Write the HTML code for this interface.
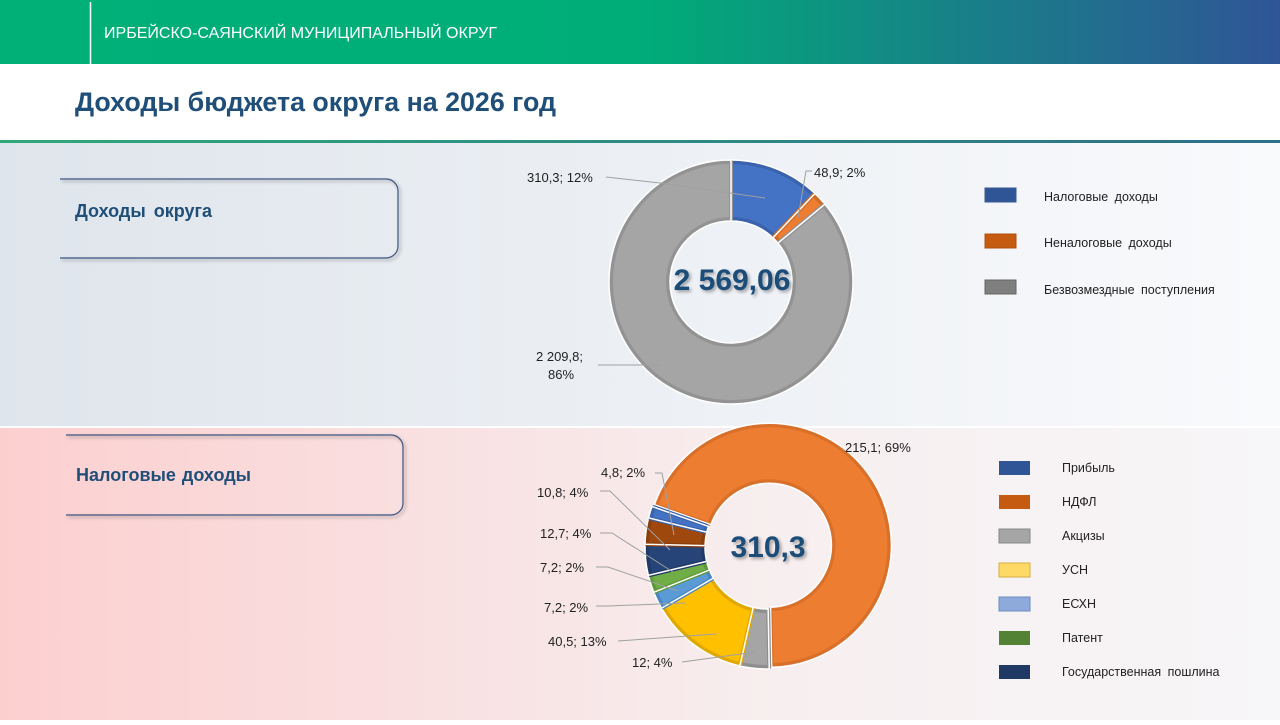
<!DOCTYPE html>
<html><head><meta charset="utf-8"><style>
body{margin:0;width:1280px;height:720px;overflow:hidden;font-family:"Liberation Sans",sans-serif}
</style></head><body>
<svg id="s" width="1280" height="720" xmlns="http://www.w3.org/2000/svg" font-family="Liberation Sans, sans-serif">
<defs>
<linearGradient id="hd" x1="0" x2="1"><stop offset="0" stop-color="#00b077"/><stop offset="0.5" stop-color="#00ad78"/><stop offset="1" stop-color="#2f5597"/></linearGradient>
<linearGradient id="t1" x1="0" x2="1"><stop offset="0" stop-color="#dfe5ec"/><stop offset="1" stop-color="#f9fafc"/></linearGradient>
<linearGradient id="t2" x1="0" x2="1"><stop offset="0" stop-color="#fccfcf"/><stop offset="0.6" stop-color="#f7eeef"/><stop offset="1" stop-color="#f7f6f8"/></linearGradient>
<linearGradient id="gl" x1="0" x2="1"><stop offset="0" stop-color="#2fa87a"/><stop offset="1" stop-color="#2e6f8a"/></linearGradient>
<filter id="sh"><feDropShadow dx="2" dy="2" stdDeviation="1.5" flood-color="#000" flood-opacity="0.35"/></filter>
</defs>
<rect width="1280" height="720" fill="#fff"/>
<rect width="1280" height="64" fill="url(#hd)"/>
<line x1="90.5" y1="2" x2="90.5" y2="64" stroke="#fff" stroke-width="1.5"/>
<text x="104" y="38" fill="#fff" font-size="16" textLength="393" lengthAdjust="spacingAndGlyphs">ИРБЕЙСКО-САЯНСКИЙ МУНИЦИПАЛЬНЫЙ ОКРУГ</text>
<text x="75" y="111" fill="#1f4e79" font-size="27" font-weight="bold" textLength="481" lengthAdjust="spacingAndGlyphs">Доходы бюджета округа на 2026 год</text>
<rect x="0" y="140" width="1280" height="3" fill="url(#gl)"/>
<rect x="0" y="143" width="1280" height="284" fill="url(#t1)"/>
<rect x="0" y="427" width="1280" height="293" fill="url(#t2)"/>
<line x1="0" y1="427" x2="1280" y2="427" stroke="#fff" stroke-width="2"/>
<path d="M60 179 H386 a12 12 0 0 1 12 12 V246 a12 12 0 0 1 -12 12 H60" fill="none" stroke="#3b5580" stroke-width="1.2" filter="url(#sh)"/>
<text x="75" y="217" fill="#1f4e79" font-size="18" font-weight="bold" word-spacing="3">Доходы  округа</text>
<path d="M66 435 H391 a12 12 0 0 1 12 12 V503 a12 12 0 0 1 -12 12 H66" fill="none" stroke="#3b5580" stroke-width="1.2" filter="url(#sh)"/>
<text x="76" y="481" fill="#1f4e79" font-size="18" font-weight="bold" word-spacing="1">Налоговые доходы</text>
<g id="d1"></g><g id="d2"></g>
<g stroke="#a0a0a0" stroke-width="1" fill="none">
<polyline points="606,177 660,183 765,198"/>
<polyline points="812,171 806,171 798,218"/>
<polyline points="598,365 660,365"/>
<polyline points="655,473 662,473 674,535"/>
<polyline points="600,491 610,491 670,550"/>
<polyline points="600,533 612,533 673,572"/>
<polyline points="596,567 608,567 678,591"/>
<polyline points="596,606 608,606 685,603"/>
<polyline points="618,641 716,634"/>
<polyline points="682,662 756,652"/>
</g>
<g font-size="13" fill="#222">
<text x="527" y="182">310,3; 12%</text>
<text x="814" y="177">48,9; 2%</text>
<text x="536" y="361">2 209,8;</text><text x="548" y="379">86%</text>
<text x="845" y="452">215,1; 69%</text>
<text x="601" y="477">4,8; 2%</text>
<text x="537" y="497">10,8; 4%</text>
<text x="540" y="538">12,7; 4%</text>
<text x="540" y="572">7,2; 2%</text>
<text x="544" y="612">7,2; 2%</text>
<text x="548" y="646">40,5; 13%</text>
<text x="632" y="667">12; 4%</text>
</g>
<text x="732" y="290" text-anchor="middle" font-size="30" font-weight="bold" fill="#1f4e79" filter="url(#sh)">2 569,06</text>
<text x="768" y="557" text-anchor="middle" font-size="30" font-weight="bold" fill="#1f4e79" filter="url(#sh)">310,3</text>
<g font-size="12.5" fill="#222" word-spacing="3">
<rect x="985" y="188" width="31" height="14" fill="#2f5597" stroke="#3a5a90"/><text x="1044" y="201">Налоговые доходы</text>
<rect x="985" y="234" width="31" height="14" fill="#c55a11" stroke="#b05010"/><text x="1044" y="247">Неналоговые доходы</text>
<rect x="985" y="280" width="31" height="14" fill="#7f7f7f" stroke="#666"/><text x="1044" y="294">Безвозмездные поступления</text>
<rect x="999" y="461" width="31" height="14" fill="#2f5597"/><text x="1062" y="472">Прибыль</text>
<rect x="999" y="495" width="31" height="14" fill="#c55a11"/><text x="1062" y="506">НДФЛ</text>
<rect x="999" y="529" width="31" height="14" fill="#a5a5a5" stroke="#888"/><text x="1062" y="540">Акцизы</text>
<rect x="999" y="563" width="31" height="14" fill="#ffd966" stroke="#d4b040"/><text x="1062" y="574">УСН</text>
<rect x="999" y="597" width="31" height="14" fill="#8eaadb" stroke="#6d8cc0"/><text x="1062" y="608">ЕСХН</text>
<rect x="999" y="631" width="31" height="14" fill="#548235"/><text x="1062" y="642">Патент</text>
<rect x="999" y="665" width="31" height="14" fill="#1f3864"/><text x="1062" y="676">Государственная пошлина</text>
</g>
</svg>
<script>
function arc(cx,cy,R,r,a0,a1){
 const rad=a=>(a-90)*Math.PI/180;
 const p=(rr,a)=>[cx+rr*Math.cos(rad(a)),cy+rr*Math.sin(rad(a))];
 const l=(a1-a0)>180?1:0;
 const [x1,y1]=p(R,a0),[x2,y2]=p(R,a1),[x3,y3]=p(r,a1),[x4,y4]=p(r,a0);
 return `M${x1} ${y1}A${R} ${R} 0 ${l} 1 ${x2} ${y2}L${x3} ${y3}A${r} ${r} 0 ${l} 0 ${x4} ${y4}Z`;
}
function donut(id,cx,cy,R,r,start,data){
 const tot=data.reduce((s,d)=>s+d[0],0);let a=start,h='';
 for(const [v,f,st,ex] of data){const b=a+v/tot*360;
  let dx=0,dy=0;if(ex){const m=((a+b)/2-90)*Math.PI/180;dx=ex*Math.cos(m);dy=ex*Math.sin(m);}
  h+=`<g transform="translate(${dx} ${dy})"><path d="${arc(cx,cy,R,r,a,b)}" fill="${f}" stroke="${st}" stroke-width="4" stroke-linejoin="round"/>`;
  h+=`<path d="${arc(cx,cy,R+2,r-2,a,b)}" fill="none" stroke="#fff" stroke-width="1.5"/></g>`;a=b;}
 document.getElementById(id).innerHTML=h;
}
donut('d1',731,282,120,63,0,[[310.3,'#4472c4','#3a62ad'],[48.9,'#ed7d31','#d06a25'],[2209.8,'#a5a5a5','#939393']]);
donut('d2',767,547,120,64,-70.6,[[215.1,'#ed7d31','#d9702a',3],[12,'#a5a5a5','#8f8f8f'],[40.5,'#ffc000','#e0a800'],[7.2,'#5b9bd5','#4a86c0'],[7.2,'#70ad47','#5e9a3a'],[12.7,'#264478','#1f3a68'],[10.8,'#9e480e','#8a3e0c'],[4.8,'#4472c4','#3a62ad']]);
</script>
</body></html>
